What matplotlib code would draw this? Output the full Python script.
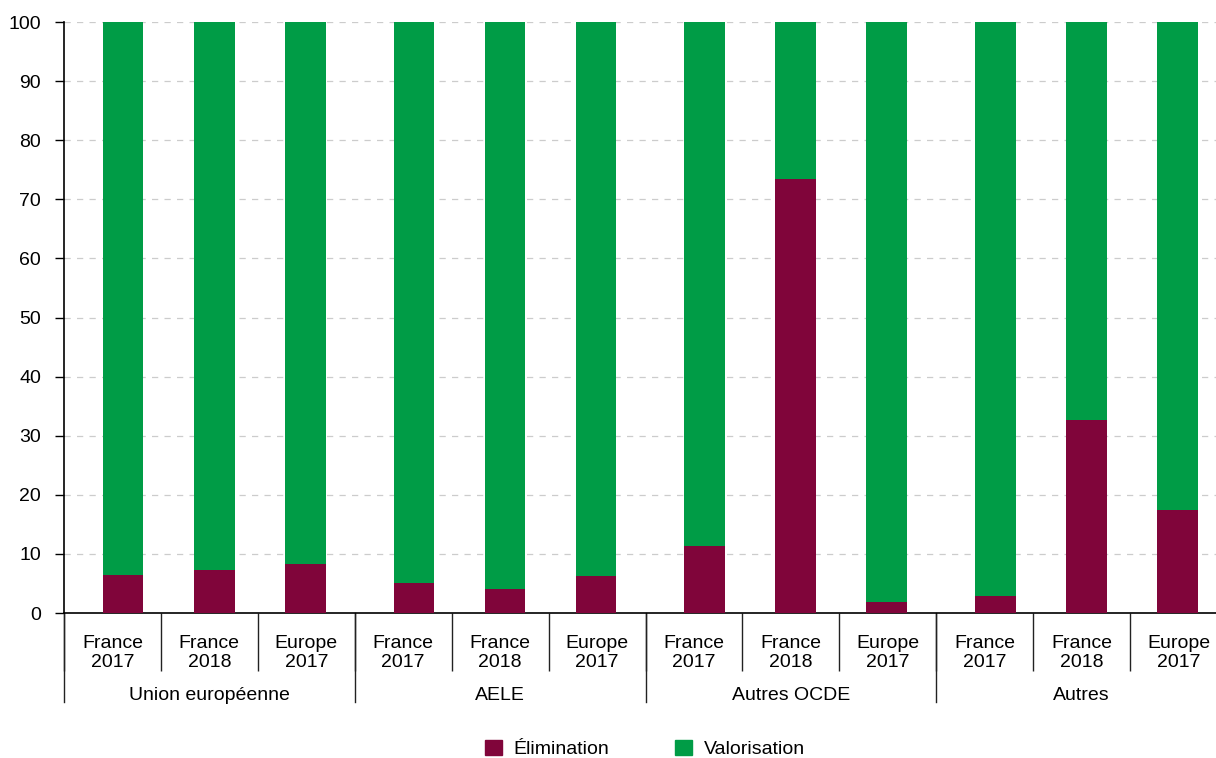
import numpy as np
import matplotlib
matplotlib.use("Agg")
import matplotlib.pyplot as plt
from matplotlib.patches import Patch

plt.rcParams['font.family'] = ['Liberation Sans', 'DejaVu Sans']

# data (share in %)
groups = ["Union européenne", "AELE", "Autres OCDE", "Autres"]
bar_labels = ["France\n2017", "France\n2018", "Europe\n2017"]
elimination = [6.4, 7.3, 8.3, 5.0, 4.1, 6.3, 11.3, 73.4, 1.9, 2.9, 32.7, 17.5]
valorisation = [100 - v for v in elimination]

col_elim = "#80053A"
col_valo = "#009C46"

fig = plt.figure(figsize=(12.16, 7.58), dpi=100)
ax = fig.add_axes([64 / 1216, 1 - 613 / 758, (1227 - 64) / 1216, (613 - 22) / 758])

# bar positions: 3 bars per group, slightly tighter than the slot grid
xs = []
for g in range(len(groups)):
    c = 3 * g + 1.5
    for k in range(3):
        xs.append(c + (k - 1) * 0.94 + 0.05)
xs = np.array(xs)

ax.bar(xs, elimination, width=0.42, color=col_elim, zorder=3)
ax.bar(xs, valorisation, width=0.42, bottom=elimination, color=col_valo, zorder=3)

ax.set_xlim(0, 12)
ax.set_ylim(0, 100)
ax.set_yticks(np.arange(0, 101, 10))
ax.tick_params(axis='y', length=6.5, width=1, labelsize=14, pad=10)
ax.yaxis.grid(True, linestyle=(0, (5, 5)), color="#cccccc", linewidth=0.9, zorder=0)

for s in ["top", "right"]:
    ax.spines[s].set_visible(False)
for s in ["left", "bottom"]:
    ax.spines[s].set_linewidth(1.2)

# x axis: separators as major ticks, labels on minor ticks
ax.set_xticks(np.arange(0, 13))
ax.set_xticklabels([])
ax.tick_params(axis='x', which='major', length=42, width=1, color="#222222")
ax.set_xticks(np.arange(12) + 0.5, minor=True)
ax.set_xticklabels(bar_labels * len(groups), minor=True)
ax.tick_params(axis='x', which='minor', length=0, labelsize=14, pad=16)
for lab in ax.get_xticklabels(minor=True):
    lab.set_linespacing(1.15)

trans = ax.get_xaxis_transform()
depth = -(702 - 613) / 591
for g in range(len(groups) + 1):
    ax.plot([3 * g, 3 * g], [0, depth], transform=trans, color="#222222", lw=1, clip_on=False)
for g, name in enumerate(groups):
    ax.text(3 * g + 1.5, -(695 - 613) / 591, name, transform=trans, ha="center", va="center", fontsize=14)

handles = [Patch(color=col_elim, label="Élimination"), Patch(color=col_valo, label="Valorisation")]
fig.legend(handles=handles, loc="center", bbox_to_anchor=(645 / 1216, 1 - 749 / 758), ncol=2,
           frameon=False, fontsize=14, handlelength=0.85, handleheight=0.85, columnspacing=3.4,
           handletextpad=0.6)

fig.savefig("out.png", dpi=100)
